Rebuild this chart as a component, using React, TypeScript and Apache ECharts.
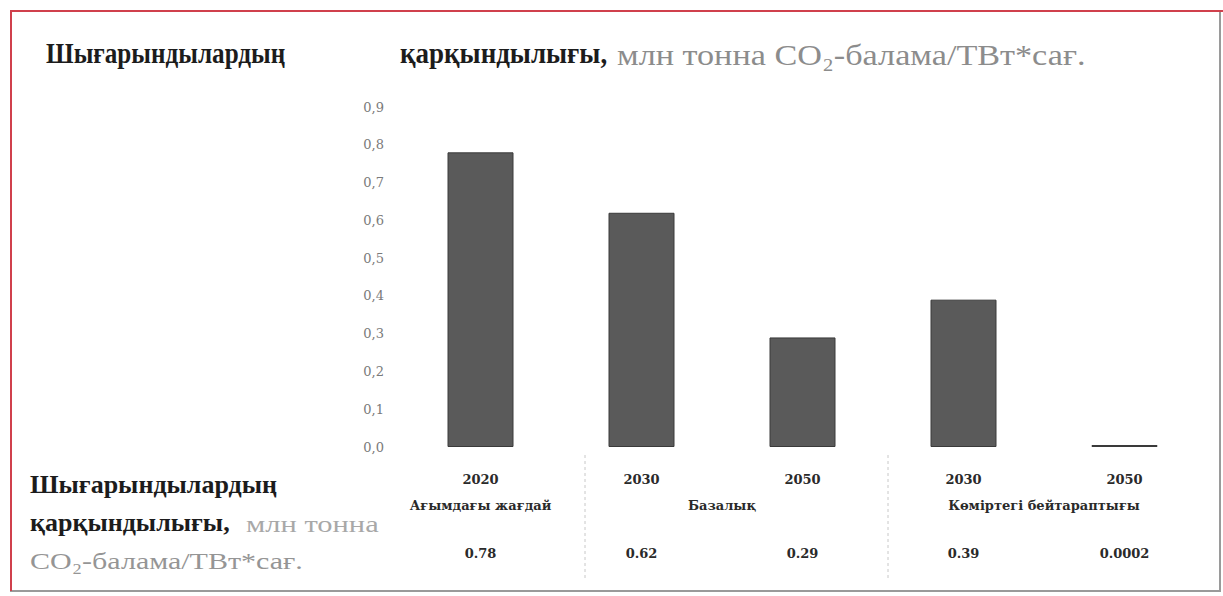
import React, { useEffect, useRef } from "react";
import * as echarts from "echarts";

const categories = ["2020", "2030", "2050", "2030", "2050"];
const values = [0.78, 0.62, 0.29, 0.39, 0.0002];
const valueLabels = ["0.78", "0.62", "0.29", "0.39", "0.0002"];
const groupNames = ["Ағымдағы жағдай", "Базалық", "Көміртегі бейтараптығы"];
const groupStart = [0, 1, 3];
const groupEnd = [0, 2, 4];
const yMin = 0;
const yMax = 0.9;
const yStep = 0.1;

const titleWord1 = "Шығарындылардың";
const titleWord2 = "қарқындылығы,";
const titleUnit = "млн тонна CO₂-балама/ТВт*сағ.";
const rowLabel1 = "Шығарындылардың";
const rowLabel2 = "қарқындылығы,";
const rowUnit1 = "млн тонна";
const rowUnit2 = "CO₂-балама/ТВт*сағ.";

const SERIF = "'Liberation Serif', 'Times New Roman', serif";
const WIDE = "'DejaVu Serif', serif";

export default function App() {
  const ref = useRef<HTMLDivElement>(null);
  useEffect(() => {
    if (!ref.current) return;
    const chart = echarts.init(ref.current, undefined, { renderer: "svg" });
    const groupCenters = groupStart.map((s, i) => (s + groupEnd[i]) / 2);
    const boldText = (text: string, x: number, y: number, size: number, sx: number) => ({
      type: "text",
      x,
      y,
      scaleX: sx,
      style: {
        text,
        verticalAlign: "middle",
        font: "bold " + size + "px " + SERIF,
        fill: "#1c1c1c",
      },
    });
    const grayText = (text: string, x: number, y: number, size: number, sx: number, fill: string) => ({
      type: "text",
      x,
      y,
      scaleX: sx,
      style: {
        text,
        verticalAlign: "middle",
        font: size + "px " + SERIF,
        fill,
      },
    });
    chart.setOption({
      animation: false,
      backgroundColor: "#ffffff",
      grid: { left: 400, right: 18, top: 107, bottom: 149, containLabel: false },
      xAxis: [
        {
          type: "category",
          data: categories,
          axisLine: { show: false },
          axisTick: { show: false },
          axisLabel: {
            margin: 26,
            fontFamily: WIDE,
            fontSize: 13,
            fontWeight: "bold",
            color: "#2a2a2a",
          },
        },
        {
          type: "category",
          data: categories,
          position: "bottom",
          axisLine: { show: false },
          axisTick: { show: false },
          axisLabel: {
            margin: 100,
            fontFamily: WIDE,
            fontSize: 13,
            fontWeight: "bold",
            color: "#2a2a2a",
            formatter: (_v: string, i: number) => valueLabels[i],
          },
        },
        {
          type: "value",
          min: -0.5,
          max: 4.5,
          interval: 0.5,
          position: "bottom",
          axisLine: { show: false },
          axisTick: { show: false },
          splitLine: { show: false },
          axisLabel: {
            margin: 52,
            fontFamily: WIDE,
            fontSize: 13,
            fontWeight: "bold",
            color: "#2a2a2a",
            formatter: (v: number) => {
              const k = groupCenters.findIndex((c) => Math.abs(c - v) < 1e-6);
              return k >= 0 ? groupNames[k] : "";
            },
          },
        },
      ],
      yAxis: {
        type: "value",
        min: yMin,
        max: yMax,
        interval: yStep,
        axisLine: { show: false },
        axisTick: { show: false },
        splitLine: { show: false },
        axisLabel: {
          margin: 16,
          fontFamily: WIDE,
          fontSize: 13,
          color: "#7a7a7a",
          formatter: (v: number) => v.toFixed(1).replace(".", ","),
        },
      },
      series: [
        {
          type: "bar",
          xAxisIndex: 0,
          data: values,
          barWidth: 66,
          barMinHeight: 2,
          itemStyle: { color: "#5a5a5a", borderColor: "#3a3a3a", borderWidth: 1 },
        },
      ],
      graphic: [
        {
          type: "rect",
          shape: { x: 11, y: 11, width: 1209, height: 580 },
          style: { fill: "none", stroke: "#9a9a9a", lineWidth: 2 },
          silent: true,
        },
        {
          type: "line",
          shape: { x1: 10, y1: 11, x2: 1223, y2: 11 },
          style: { stroke: "#d0404c", lineWidth: 2 },
        },
        {
          type: "line",
          shape: { x1: 11, y1: 10, x2: 11, y2: 591 },
          style: { stroke: "#d0404c", lineWidth: 2 },
        },
        {
          type: "line",
          shape: { x1: 585, y1: 455, x2: 585, y2: 580 },
          style: { stroke: "#c8c8c8", lineWidth: 1, lineDash: [3, 3] },
        },
        {
          type: "line",
          shape: { x1: 888, y1: 455, x2: 888, y2: 580 },
          style: { stroke: "#c8c8c8", lineWidth: 1, lineDash: [3, 3] },
        },
        boldText(titleWord1, 46, 53, 30, 0.84),
        boldText(titleWord2, 400, 53, 30, 0.9),
        grayText(titleUnit, 617, 55, 30, 1.14, "#8c8c8c"),
        boldText(rowLabel1, 30, 484, 26, 1.0),
        boldText(rowLabel2, 30, 522, 26, 1.0),
        grayText(rowUnit1, 246, 524, 24, 1.27, "#a8a8a8"),
        grayText(rowUnit2, 30, 561, 24, 1.25, "#959595"),
      ],
    });
    return () => chart.dispose();
  }, []);
  return (
    <div
      ref={ref}
      style={{ position: "fixed", left: 0, top: 0, width: 1223, height: 596 }}
    />
  );
}
